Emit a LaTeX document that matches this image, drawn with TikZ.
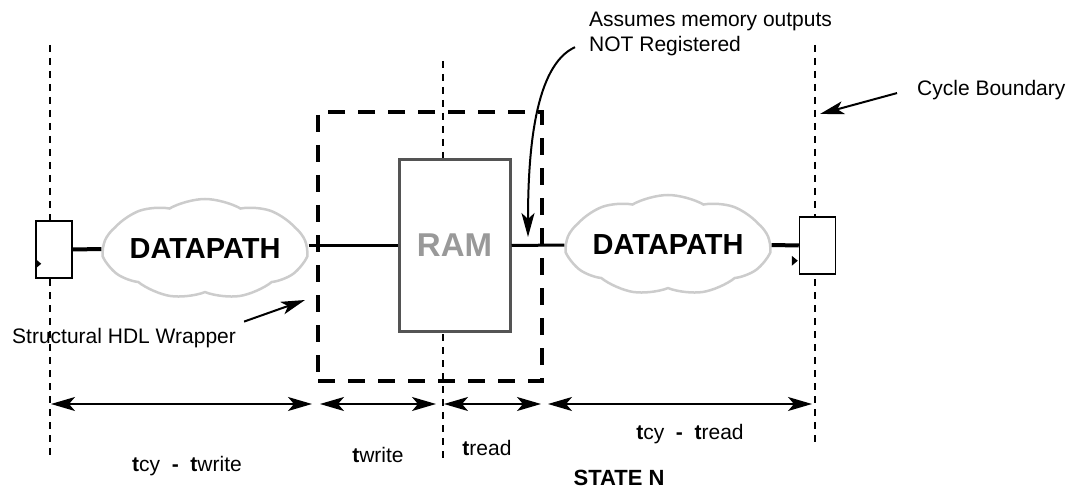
\documentclass[tikz,border=0pt]{standalone}
\usepackage{fontspec}
\setmainfont{Liberation Sans}
\usetikzlibrary{arrows.meta, shapes.symbols, positioning}
\def\tb{\textbf}
\def\fs#1{\fontsize{#1}{#1}\selectfont}

\begin{document}
\begin{tikzpicture}[x=1pt, y=-1pt,
  cycline/.style={line width=2.5pt, dash pattern=on 7pt off 6pt},
  regbox/.style={draw, line width=1.5pt, fill=white, minimum width=36pt, minimum height=57pt, inner sep=0pt},
  datacloud/.style={cloud, cloud puffs=9, cloud puff arc=60, cloud ignores aspect, draw=black!20, line width=2.5pt, fill=white, minimum width=195pt, minimum height=100pt, inner sep=0pt, font=\bfseries\fs{29}},
  wrapbox/.style={draw, line width=4pt, dash pattern=on 17pt off 13pt, minimum width=224pt, minimum height=269pt},
  rambox/.style={draw=black!67, line width=3pt, fill=white, minimum width=111pt, minimum height=171pt, text=black!40, font=\bfseries\fs{33}},
  notetext/.style={inner sep=0pt, align=left, font=\fontsize{21}{25}\selectfont},
  notearrow/.style={line width=2pt, -{Stealth[length=24pt, width=13pt, inset=6pt]}},
  span/.style={line width=1.5pt, {Stealth[length=24pt, width=14pt, inset=6pt]}-{Stealth[length=24pt, width=14pt, inset=6pt]}},
  spanlabel/.style={anchor=base, inner sep=0pt, font=\fs{21}}]
\useasboundingbox (0,0) rectangle (1073,489);

% cycle boundaries
\draw[cycline] (50,45) -- (50,456);
\draw[cycline] (443,61) -- (443,462);
\draw[cycline] (815,45) -- (815,447);

% wrapper and memory
\node[wrapbox] (wrap) at (430,246.5) {};
\node[rambox] (ram) at (454.5,245.5) {RAM};

% registers
\node[regbox] (regA) at (54,249.5) {};
\node[regbox] (regB) at (817.5,245.5) {};
\fill ([shift={(0,-20)}]regA.south west) -- ++(6,5) -- ++(-6,5) -- cycle;
\fill ([shift={(-7,-19)}]regB.south west) -- ++(6,5) -- ++(-6,5) -- cycle;

% datapaths
\node[datacloud] (dpA) at (205,249) {DATAPATH};
\node[datacloud] (dpB) at (668,245) {DATAPATH};

\draw[line width=4pt] (regA.east) -- (dpA.west);
\draw[line width=2.5pt] (dpA.east |- ram.west) -- (ram.west);
\draw[line width=3pt] (ram.east) -- (dpB.west);
\draw[line width=4pt] (dpB.east) -- (regB.west);

% notes
\node[notetext, anchor=north west] (regnote) at (589,12) {Assumes memory outputs\\NOT Registered};
\node[notetext, anchor=base west] (cycnote) at (917,95.5) {Cycle Boundary};
\node[notetext, anchor=base west] (hdlnote) at (12,343) {Structural HDL Wrapper};

\coordinate (ramout) at (528,237);
\coordinate (cyctip) at (820,114);
\coordinate (hdltip) at (305,300);
\draw[notearrow] ([shift={(-14,-9)}]regnote.south west) .. controls +(-40,18) and +(0,-87) .. (ramout);
\draw[notearrow] ([shift={(-20,3)}]cycnote.west) -- (cyctip);
\draw[notearrow] ([shift={(8,-6)}]hdlnote.north east) -- (hdltip);

% timing
\coordinate (t0) at (51,404);
\coordinate (t1) at (312,404);
\coordinate (t2) at (320,404);
\coordinate (t3) at (436,404);
\coordinate (t4) at (444,404);
\coordinate (t5) at (541,404);
\coordinate (t6) at (548,404);
\coordinate (t7) at (812,404);
\foreach \a/\b in {t0/t1, t2/t3, t4/t5, t6/t7}
  \draw[span] (\a) -- (\b);

\node[spanlabel] (lblA) at (187,471.5) {\tb{t}cy\ \ \tb{-}\ \ \tb{t}write};
\node[spanlabel] (lblB) at (378,462) {\tb{t}write};
\node[spanlabel] (lblC) at (487,455) {\tb{t}read};
\node[spanlabel] (lblD) at (690,439.5) {\tb{t}cy\ \ \tb{-}\ \ \tb{t}read};
\node[spanlabel, font=\bfseries\fs{22}] (state) at (619,485) {STATE N};
\end{tikzpicture}
\end{document}
